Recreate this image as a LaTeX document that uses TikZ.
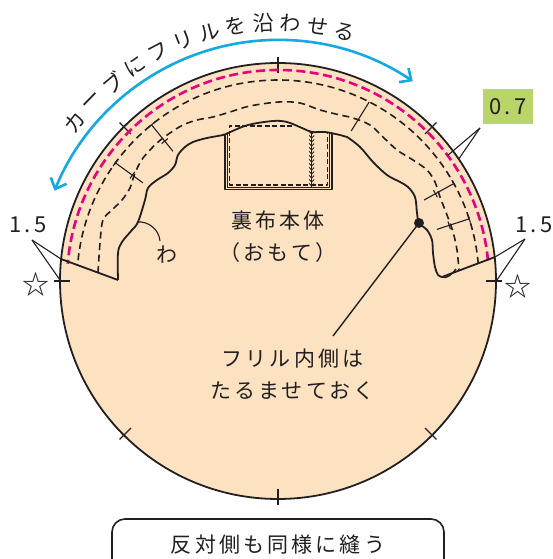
\documentclass[tikz,border=0pt]{standalone}
\usepackage{fontspec}
\setmainfont[LetterSpace=15]{Noto Sans CJK JP}
\usetikzlibrary{arrows.meta,calc}
\definecolor{fabric}{RGB}{252,226,193}
\definecolor{ink}{RGB}{35,31,32}
\definecolor{seampink}{RGB}{230,0,126}
\definecolor{curveblue}{RGB}{20,170,225}
\definecolor{tagleaf}{RGB}{185,213,105}
\tikzstyle{none}=[]
\tikzstyle{word}=[text=ink, inner sep=0pt, align=center, font=\fontsize{21}{32}\selectfont]
\tikzstyle{numeral}=[text=ink, inner sep=0pt, font=\fontsize{22}{26}\selectfont]
\tikzstyle{seam}=[draw=ink, line width=1.6pt, dash pattern=on 7pt off 4.5pt]
\tikzstyle{pinkseam}=[draw=seampink, line width=2.6pt, dash pattern=on 9pt off 4.5pt]
\tikzstyle{leader}=[draw=ink, line width=1.1pt]
\tikzstyle{edge}=[draw=ink, line width=1.8pt]

\begin{document}
\begin{tikzpicture}[x=1pt, y=1pt, line join=round]
		\useasboundingbox (0,0) rectangle (552,559);
		\node [style=none] (0) at (278,278) {};
		\node [style=none] (1) at (61,300) {};
		\node [style=none] (2) at (118,279) {};
		\node [style=none] (3) at (495,302) {};
		\node [style=none] (4) at (442,282) {};
		\node [style=none] (5) at (419,336) {};
		\node [style=none] (6) at (333,223) {};
		\node [style=none] (7) at (480,431) {};
		\node [style=none] (8) at (447.6,403.5) {};
		\node [style=none] (9) at (458.7,399.9) {};
		\node [style=none] (10) at (32,319) {};
		\node [style=none] (11) at (60,279) {};
		\node [style=none] (12) at (525,320) {};
		\node [style=none] (13) at (497,279) {};
		\node [style=none] (14) at (137,337) {};
		\node [style=none] (15) at (160,318) {};
		\node [style=none] (16) at (456,290) {};

		% body
		\filldraw [fill=fabric, style=edge] (0.center) circle (218);
		\begin{scope}[shift={(0.center)}]
			\foreach \a in {0,45,...,315}
				\draw [ink, line width=1.3pt] (\a:208) -- (\a:224);
			\draw [style=pinkseam] (5.6:211) arc (5.6:175.3:211);
			\draw [style=seam] (4.9:201) arc (4.9:175.7:201);
		\end{scope}

		% pocket
		\draw [ink, line width=1.9pt] (225,424) -- (225,369.5) -- (332,369.5) -- (332,426);
		\draw [ink, line width=0.9pt] (227.5,425) -- (227.5,371.8) -- (329.7,371.8) -- (329.7,426.5);
		\draw [ink, line width=1.3pt, dash pattern=on 5pt off 2.5pt] (292,433) -- (229.5,433) -- (229.5,374) -- (327.3,374) -- (327.3,427);
		\draw [ink, line width=0.9pt] (311.7,371) -- (311.7,427);
		\foreach \y in {373,377,...,425}
			\draw [ink, line width=0.9pt] (309.2,\y+2.5) -- (311.7,\y) -- (314.2,\y+2.5);

		% fold line and cuts
		\draw [style=edge] plot [smooth, tension=0.55] coordinates {(118,279) (118,306) (122,317) (132,329) (138,337) (145,359) (148,371) (157,379) (168,386) (175,394) (178,404) (185,412) (193,417) (207,421) (223,424) (228,426) (248,434) (273,438) (287,437) (302,431) (312,427) (325,427) (340,424) (347,422) (360,412) (373,397) (387,384) (400,377) (408,372) (415,362) (417,346) (419,336) (427,329) (432,319) (433,306) (435,292) (438,284) (442,282)};
		\draw [style=edge] (1.center) to (2.center);
		\draw [style=edge] (3.center) to (4.center);
		\draw [ink, line width=1.4pt] (4.center) .. controls (447,280) and (451,284) .. (16.center);
		\draw [style=seam] plot [smooth, tension=0.55] coordinates {(98,286) (100,316) (103,339) (112,349) (122,359) (130,371) (135,386) (143,401) (157,416) (170,426) (183,434) (197,439) (213,442) (230,447) (250,453) (279,457) (300,456) (320,449) (340,444) (353,441) (370,434) (383,422) (397,409) (413,399) (427,389) (435,377) (440,362) (447,344) (453,327) (457,309) (459,288)};

		% marks
		\begin{scope}[shift={(0.center)}, ink, line width=1.1pt]
			\foreach \a in {144,129,29,18} {
				\draw (\a:201) -- (\a:167);
				\draw ([shift={({\a+90}:4)}]\a:201) -- ([shift={({\a-90}:4)}]\a:201);
				\draw ([shift={({\a+90}:4)}]\a:180) -- ([shift={({\a-90}:4)}]\a:180);
			}
			\draw (63:201) -- (64:167);
		\end{scope}

		% curve arrow and its text
		\begin{scope}[shift={(0.center)}]
			\draw [curveblue, line width=2.6pt, {Straight Barb[length=9pt,width=17pt]}-{Straight Barb[length=9pt,width=17pt]}] (56:241) arc (56:158:241);
			\foreach \ch [count=\i from 0] in {カ,ー,ブ,に,フ,リ,ル,を,沿,わ,せ,る}
				\node [style=word, rotate={52-\i*6.09}] (arc\i) at ({142-\i*6.09}:258) {\ch};
		\end{scope}

		% labels
		\node [style=numeral, fill=tagleaf, minimum width=50pt, minimum height=35pt] (17) at (508,452) {0.7};
		\node [style=numeral] (18) at (28,334) {1.5};
		\node [style=numeral] (19) at (534,334) {1.5};
		\node [style=word, font=\fontsize{27}{30}\selectfont] (20) at (36,275) {☆};
		\node [style=word, font=\fontsize{27}{30}\selectfont] (21) at (518,273) {☆};
		\node [style=word] (22) at (167,304) {わ};
		\node [style=word] (23) at (278,322) {裏布本体\\（おもて）};
		\node [style=word] (24) at (292.5,185) {フリル内側は\\たるませておく};
		\draw [style=leader] (7.center) to (8.center);
		\draw [style=leader] (7.center) to (9.center);
		\draw [style=leader] (10.center) to (1.center);
		\draw [style=leader] (10.center) to (11.center);
		\draw [style=leader] (12.center) to (3.center);
		\draw [style=leader] (12.center) to (13.center);
		\draw [style=leader] (14.center) to [out=5, in=95] (15.center);
		\draw [style=leader, line width=1.4pt] (5.center) to (6.center);
		\fill [ink] (5.center) circle (5);

		% note below
		\draw [ink, line width=1.6pt, rounded corners=13pt, fill=white] (112,-20) rectangle (444,40);
		\node [style=word] (25) at (278,14) {反対側も同様に縫う};
\end{tikzpicture}
\end{document}
